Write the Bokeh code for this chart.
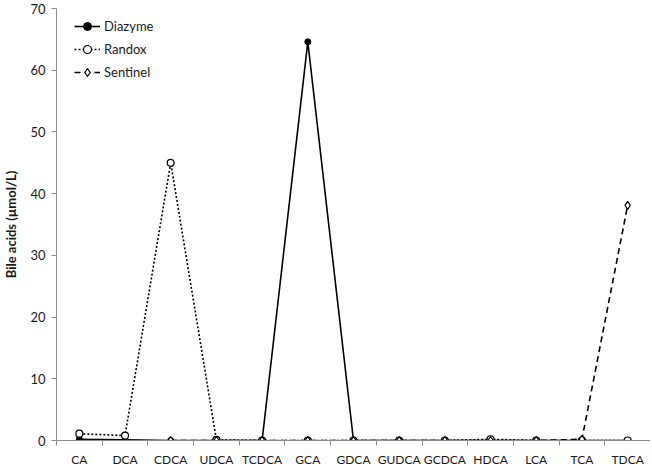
from bokeh.plotting import figure
from bokeh.models import FixedTicker, Legend, LegendItem, Range1d
from bokeh.embed import file_html
from bokeh.resources import INLINE
import numpy as np

categories = ["CA", "DCA", "CDCA", "UDCA", "TCDCA", "GCA", "GDCA", "GUDCA",
              "GCDCA", "HDCA", "LCA", "TCA", "TDCA"]
diazyme = [0.2, 0.1, 0, 0, 0, 64.6, 0, 0, 0, 0, 0, 0, 0]
randox = [1.1, 0.8, 45.0, 0.1, 0, 0, 0, 0, 0, 0.2, 0, 0, 0]
sentinel = [np.nan, np.nan, 0, 0, 0, 0, 0, 0, 0, 0, 0, 0.2, 38.1]
y_ticks = [0, 10, 20, 30, 40, 50, 60, 70]

FONT = "Lato"
x = list(range(len(categories)))

p = figure(width=650, height=469, output_backend="svg", toolbar_location=None,
           x_range=Range1d(-0.5, len(categories) - 0.5), y_range=Range1d(0, 70),
           min_border_left=46, min_border_right=0, min_border_top=8,
           min_border_bottom=0)
p.outline_line_color = None
p.grid.visible = False

r1l = p.line(x, diazyme, line_color="black", line_width=1.6)
r1m = p.scatter(x, diazyme, marker="circle", size=6, fill_color="black",
                line_color="black")
r2l = p.line(x, randox, line_color="black", line_width=1.6, line_dash="2 2")
r2m = p.scatter(x, randox, marker="circle", size=7, fill_color="white",
                line_color="black", line_width=1.2)
r3l = p.line(x, sentinel, line_color="black", line_width=1.6, line_dash="6 4")
r3m = p.scatter(x, sentinel, marker="diamond", size=8, fill_color="white",
                line_color="black", line_width=1.2)

xa = p.xaxis[0]
xa.ticker = FixedTicker(ticks=x, minor_ticks=[i - 0.5 for i in range(len(categories) + 1)])
xa.major_label_overrides = {i: c for i, c in enumerate(categories)}
xa.major_tick_line_color = None
xa.major_tick_in = 0
xa.major_tick_out = 0
xa.minor_tick_line_color = "#8c8c8c"
xa.minor_tick_in = 0
xa.minor_tick_out = 5
xa.axis_line_color = "#8c8c8c"
xa.major_label_text_font = FONT
xa.major_label_text_font_size = "12px"
xa.major_label_text_color = "#1a1a1a"
xa.major_label_standoff = 6
xa.axis_label_standoff = 0

ya = p.yaxis[0]
ya.ticker = FixedTicker(ticks=y_ticks)
ya.minor_tick_line_color = None
ya.major_tick_in = 0
ya.major_tick_out = 5
ya.major_tick_line_color = "#8c8c8c"
ya.axis_line_color = "#8c8c8c"
ya.major_label_text_font = FONT
ya.major_label_text_font_size = "13px"
ya.major_label_text_color = "#1a1a1a"
ya.major_label_standoff = 6
ya.axis_label = "Bile acids (µmol/L)"
ya.axis_label_text_font = FONT
ya.axis_label_text_font_size = "13px"
ya.axis_label_text_font_style = "bold"
ya.axis_label_text_color = "#1a1a1a"
ya.axis_label_standoff = 8

legend = Legend(items=[
    LegendItem(label="Diazyme", renderers=[r1l, r1m]),
    LegendItem(label="Randox", renderers=[r2l, r2m]),
    LegendItem(label="Sentinel", renderers=[r3l, r3m]),
], location=(18, 358))
legend.border_line_color = None
legend.background_fill_alpha = 0
legend.label_text_font = FONT
legend.label_text_font_size = "13px"
legend.label_text_color = "#1a1a1a"
legend.glyph_width = 26
legend.glyph_height = 20
legend.label_height = 20
legend.spacing = 3
legend.padding = 2
legend.margin = 0
legend.label_standoff = 4
p.add_layout(legend)

open("out.html", "w").write(file_html(p, INLINE))
